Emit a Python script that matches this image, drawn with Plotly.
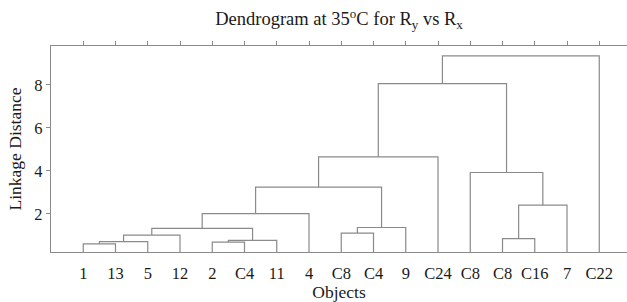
import plotly.graph_objects as go

# Leaf labels in dendrogram order (positions 1..17)
leaf_labels = ["1", "13", "5", "12", "2", "C4", "11", "4", "C8", "C4", "9",
               "C24", "C8", "C8", "C16", "7", "C22"]

# Linkage: node ids 0..16 are leaves, each merge creates node 17, 18, ...
merge_left = [0, 4, 17, 18, 13, 19, 8, 22, 23, 24, 21, 26, 12, 28, 30, 31]
merge_right = [1, 5, 2, 6, 14, 3, 9, 20, 10, 7, 15, 25, 27, 11, 29, 16]
merge_height = [0.60, 0.68, 0.70, 0.76, 0.84, 1.01, 1.10, 1.32, 1.36, 2.01,
                2.40, 3.24, 3.92, 4.65, 8.06, 9.35]

y_ticks = [2, 4, 6, 8]

n = len(leaf_labels)
pos = {i: i + 1 for i in range(n)}
hgt = {i: 0.0 for i in range(n)}

xs, ys = [], []
for k, (a, b, h) in enumerate(zip(merge_left, merge_right, merge_height)):
    node = n + k
    xs += [pos[a], pos[a], pos[b], pos[b], None]
    ys += [hgt[a], h, h, hgt[b], None]
    pos[node] = (pos[a] + pos[b]) / 2
    hgt[node] = h

line_col = "#8a8a8a"
serif = "Liberation Serif"
tick_font = dict(family=serif, size=16.5, color="#1a1a1a")
title_font = dict(family=serif, size=17.5, color="#1a1a1a")

fig = go.Figure()
fig.add_trace(go.Scatter(x=xs, y=ys, mode="lines",
                         line=dict(color=line_col, width=1.2),
                         hoverinfo="skip", showlegend=False))
# invisible trace for the top axis
fig.add_trace(go.Scatter(x=[1], y=[1], xaxis="x2", mode="markers",
                         marker=dict(opacity=0), showlegend=False,
                         hoverinfo="skip"))

fig.update_layout(
    width=627, height=302,
    margin=dict(l=51, r=0, t=46, b=50),
    paper_bgcolor="white", plot_bgcolor="white",
    font=tick_font,
    title=dict(text="Dendrogram at 35<sup>o</sup>C for R<sub>y</sub> vs R<sub>x</sub>",
               x=(51 + 627) / 2 / 627, xanchor="center",
               y=1 - 19 / 302, yanchor="middle", yref="container",
               font=dict(family=serif, size=18.5, color="#1a1a1a")),
    xaxis=dict(range=[0, 17.86], tickvals=list(range(1, n + 1)), ticktext=leaf_labels,
               showgrid=False, zeroline=False, showline=True, linecolor=line_col,
               linewidth=1.2, ticks="outside", ticklen=6, tickcolor="rgba(0,0,0,0)",
               automargin=False,
               title=dict(text="Objects", standoff=2, font=title_font),
               tickfont=tick_font),
    xaxis2=dict(range=[0, 17.86], overlaying="x", side="top", matches="x",
                tickvals=list(range(1, n + 1)), showticklabels=False,
                showgrid=False, zeroline=False, showline=True, linecolor=line_col,
                linewidth=1.2, ticks="outside", ticklen=4, tickcolor=line_col,
                automargin=False),
    yaxis=dict(range=[0.22, 9.81], tickvals=y_ticks, showgrid=False, zeroline=False,
               showline=True, linecolor=line_col, linewidth=1.2,
               ticks="outside", ticklen=4, tickcolor=line_col,
               automargin=False,
               title=dict(text="Linkage Distance", standoff=8, font=title_font),
               tickfont=tick_font),
)

fig.write_html("out.html", config={"displayModeBar": False},
               post_script="document.body.style.margin='0';")
